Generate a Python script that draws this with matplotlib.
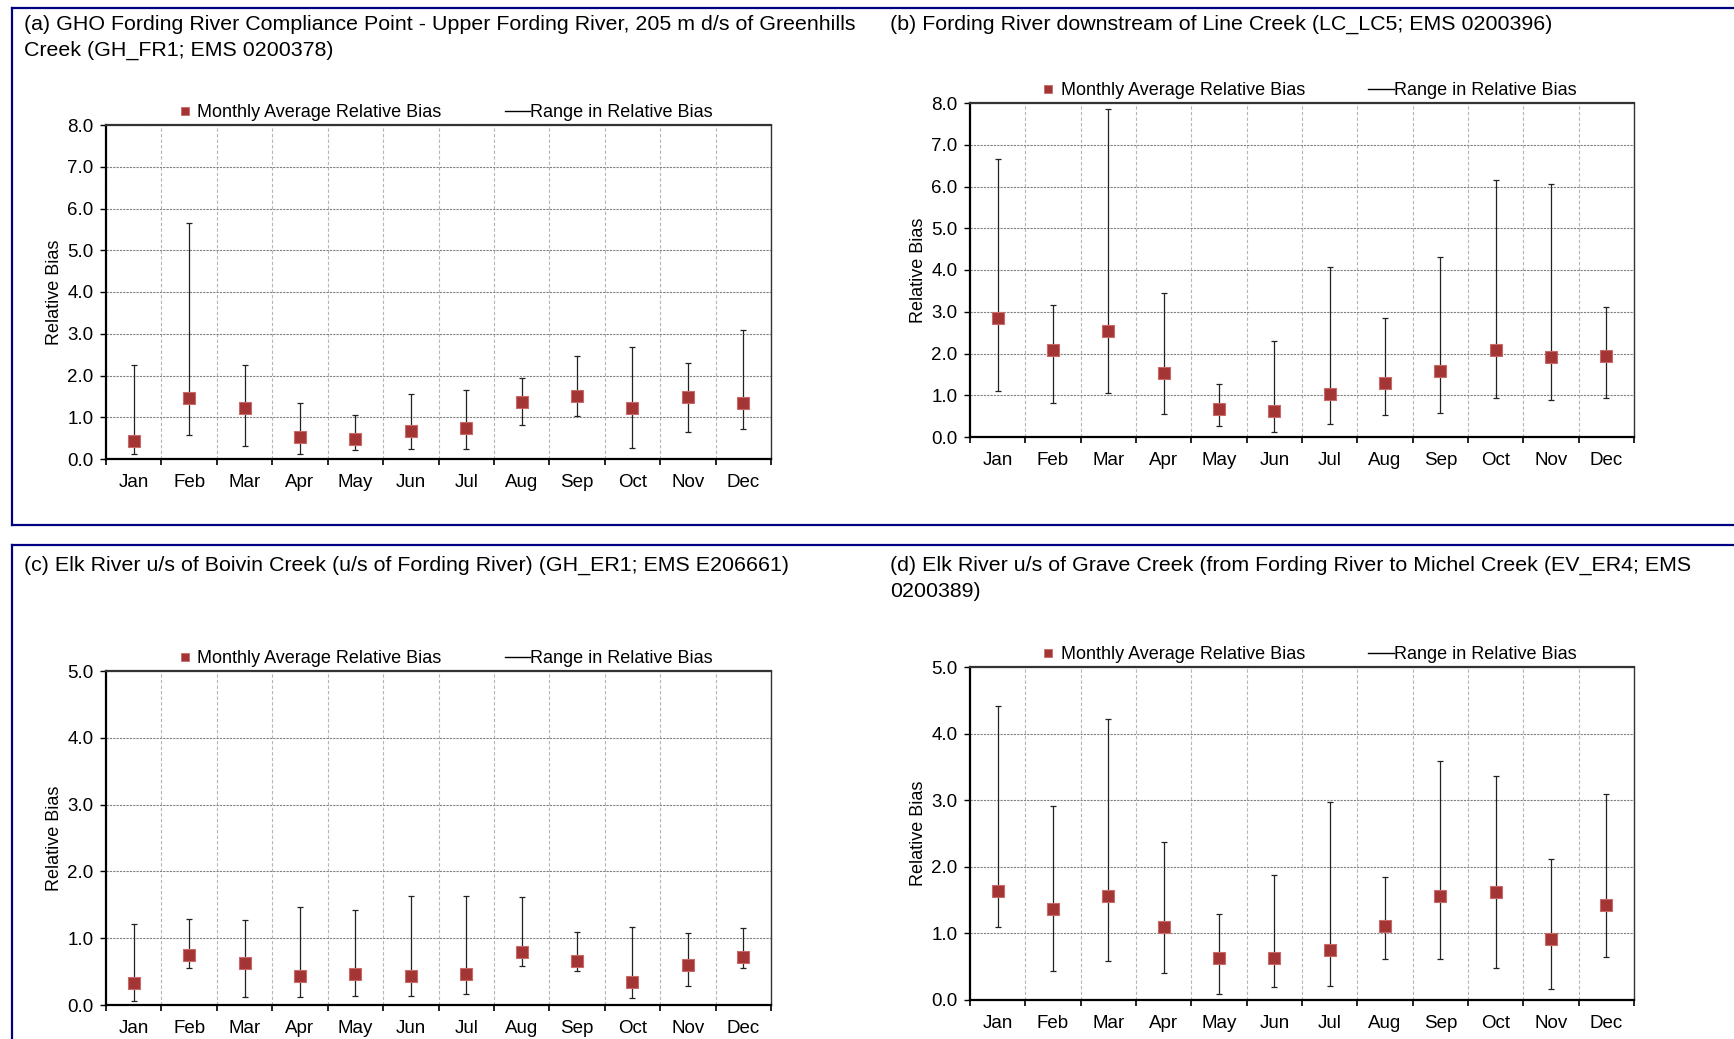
import numpy as np
import matplotlib.pyplot as plt
from matplotlib.lines import Line2D

plt.rcParams['font.family'] = ['Liberation Sans', 'DejaVu Sans']

# Month categories
months = ["Jan", "Feb", "Mar", "Apr", "May", "Jun",
          "Jul", "Aug", "Sep", "Oct", "Nov", "Dec"]

# (a) GH_FR1
a_mean = [0.43, 1.47, 1.22, 0.53, 0.47, 0.68, 0.74, 1.37, 1.52, 1.22, 1.48, 1.33]
a_low = [0.11, 0.58, 0.31, 0.11, 0.21, 0.23, 0.25, 0.81, 1.02, 0.27, 0.64, 0.73]
a_high = [2.24, 5.66, 2.26, 1.34, 1.06, 1.56, 1.65, 1.94, 2.46, 2.69, 2.29, 3.09]

# (b) LC_LC5
b_mean = [2.85, 2.08, 2.54, 1.53, 0.66, 0.62, 1.03, 1.29, 1.57, 2.08, 1.92, 1.95]
b_low = [1.10, 0.82, 1.06, 0.56, 0.27, 0.12, 0.30, 0.52, 0.57, 0.94, 0.88, 0.94]
b_high = [6.65, 3.16, 7.85, 3.46, 1.28, 2.30, 4.07, 2.86, 4.30, 6.15, 6.06, 3.11]

# (c) GH_ER1
c_mean = [0.33, 0.75, 0.63, 0.43, 0.47, 0.44, 0.47, 0.80, 0.66, 0.35, 0.60, 0.72]
c_low = [0.06, 0.56, 0.12, 0.12, 0.13, 0.14, 0.16, 0.58, 0.51, 0.10, 0.29, 0.55]
c_high = [1.21, 1.28, 1.27, 1.47, 1.42, 1.63, 1.63, 1.61, 1.09, 1.17, 1.08, 1.16]

# (d) EV_ER4
d_mean = [1.64, 1.36, 1.56, 1.09, 0.63, 0.63, 0.75, 1.11, 1.56, 1.62, 0.92, 1.42]
d_low = [1.10, 0.43, 0.58, 0.40, 0.09, 0.20, 0.21, 0.61, 0.62, 0.48, 0.17, 0.65]
d_high = [4.41, 2.92, 4.22, 2.37, 1.29, 1.88, 2.97, 1.84, 3.59, 3.36, 2.11, 3.09]

titles = [
    "(a) GHO Fording River Compliance Point - Upper Fording River, 205 m d/s of Greenhills\nCreek (GH_FR1; EMS 0200378)",
    "(b) Fording River downstream of Line Creek (LC_LC5; EMS 0200396)",
    "(c) Elk River u/s of Boivin Creek (u/s of Fording River) (GH_ER1; EMS E206661)",
    "(d) Elk River u/s of Grave Creek (from Fording River to Michel Creek (EV_ER4; EMS\n0200389)",
]

W, H = 1734, 1039
fig = plt.figure(figsize=(W / 100, H / 100), dpi=100)

# panel frames (navy lines)
navy = "#000080"
def hline(y, x0, x1):
    fig.add_artist(Line2D([x0 / W, x1 / W], [1 - y / H, 1 - y / H], color=navy, lw=1.6))
def vline(x, y0, y1):
    fig.add_artist(Line2D([x / W, x / W], [1 - y0 / H, 1 - y1 / H], color=navy, lw=1.6))

hline(8, 12, W)
hline(525, 12, W)
vline(12, 8, 525)
hline(545, 12, W)
vline(12, 545, H)

# axes rectangles in pixels: left, top, right, bottom
rects = [(106, 125, 771, 459), (970, 103, 1634, 437),
         (106, 671, 771, 1005), (970, 667, 1634, 1000)]
title_pos = [(24, 15), (890, 15), (24, 556), (890, 556)]
data = [(a_mean, a_low, a_high, 8), (b_mean, b_low, b_high, 8),
        (c_mean, c_low, c_high, 5), (d_mean, d_low, d_high, 5)]

x = np.arange(len(months))
mark_fc = "#a33535"
mark_ec = "#c96a6a"

for (l, t, r, b), (tx, ty), title, (mean, low, high, ymax) in zip(rects, title_pos, titles, data):
    fig.text(tx / W, 1 - ty / H, title, fontsize=15.4, va="top", ha="left", linespacing=1.42)

    ax = fig.add_axes([l / W, 1 - b / H, (r - l) / W, (b - t) / H])
    mean = np.array(mean)
    yerr = [mean - np.array(low), np.array(high) - mean]
    ax.errorbar(x, mean, yerr=yerr, fmt="none", ecolor="#222222",
                elinewidth=0.9, capsize=2.5, capthick=0.9, zorder=2)
    ax.plot(x, mean, "s", ms=8, mfc=mark_fc, mec=mark_ec, mew=0.8, zorder=3)

    ax.set_xlim(-0.5, 11.5)
    ax.set_ylim(0, ymax)
    ax.set_yticks(np.arange(0, ymax + 0.5, 1))
    ax.set_yticklabels([f"{v:.1f}" for v in np.arange(0, ymax + 0.5, 1)])

    ax.set_xticks(np.arange(-0.5, 12, 1))
    ax.set_xticklabels([])
    ax.set_xticks(x, minor=True)
    ax.set_xticklabels(months, minor=True)
    ax.tick_params(axis="x", which="minor", length=0, pad=10.5, labelsize=13.5)
    ax.tick_params(axis="x", which="major", length=4, width=1.2, direction="out")
    ax.tick_params(axis="y", length=4, width=1.0, direction="out", pad=5, labelsize=13.5)

    ax.grid(axis="x", which="major", color="#b5b5b5", ls=(0, (3, 2)), lw=0.8)
    ax.grid(axis="y", which="major", color="#808080", ls=(0, (2, 1)), lw=0.8)
    ax.set_axisbelow(True)

    for side in ["left", "bottom"]:
        ax.spines[side].set_linewidth(1.6)
        ax.spines[side].set_color("black")
    ax.spines["top"].set_linewidth(1.6)
    ax.spines["top"].set_color("#333333")
    ax.spines["right"].set_linewidth(1.0)
    ax.spines["right"].set_color("#333333")

    ax.set_ylabel("Relative Bias", fontsize=13)
    ax.yaxis.set_label_coords(-43 / (r - l), 0.5)

    handles = [Line2D([], [], ls="none", marker="s", ms=6, mfc=mark_fc, mec=mark_ec, mew=0.6),
               Line2D([], [], color="black", lw=1.0)]
    ax.legend(handles, ["Monthly Average Relative Bias", "Range in Relative Bias"],
              loc="center", bbox_to_anchor=(0.5 + 4 / (r - l), 1 + 12.5 / (b - t)),
              ncol=2, frameon=False, fontsize=13, handlelength=1.4,
              handletextpad=0.0, columnspacing=3.5, borderpad=0, borderaxespad=0)

fig.savefig("out.png", dpi=100)
